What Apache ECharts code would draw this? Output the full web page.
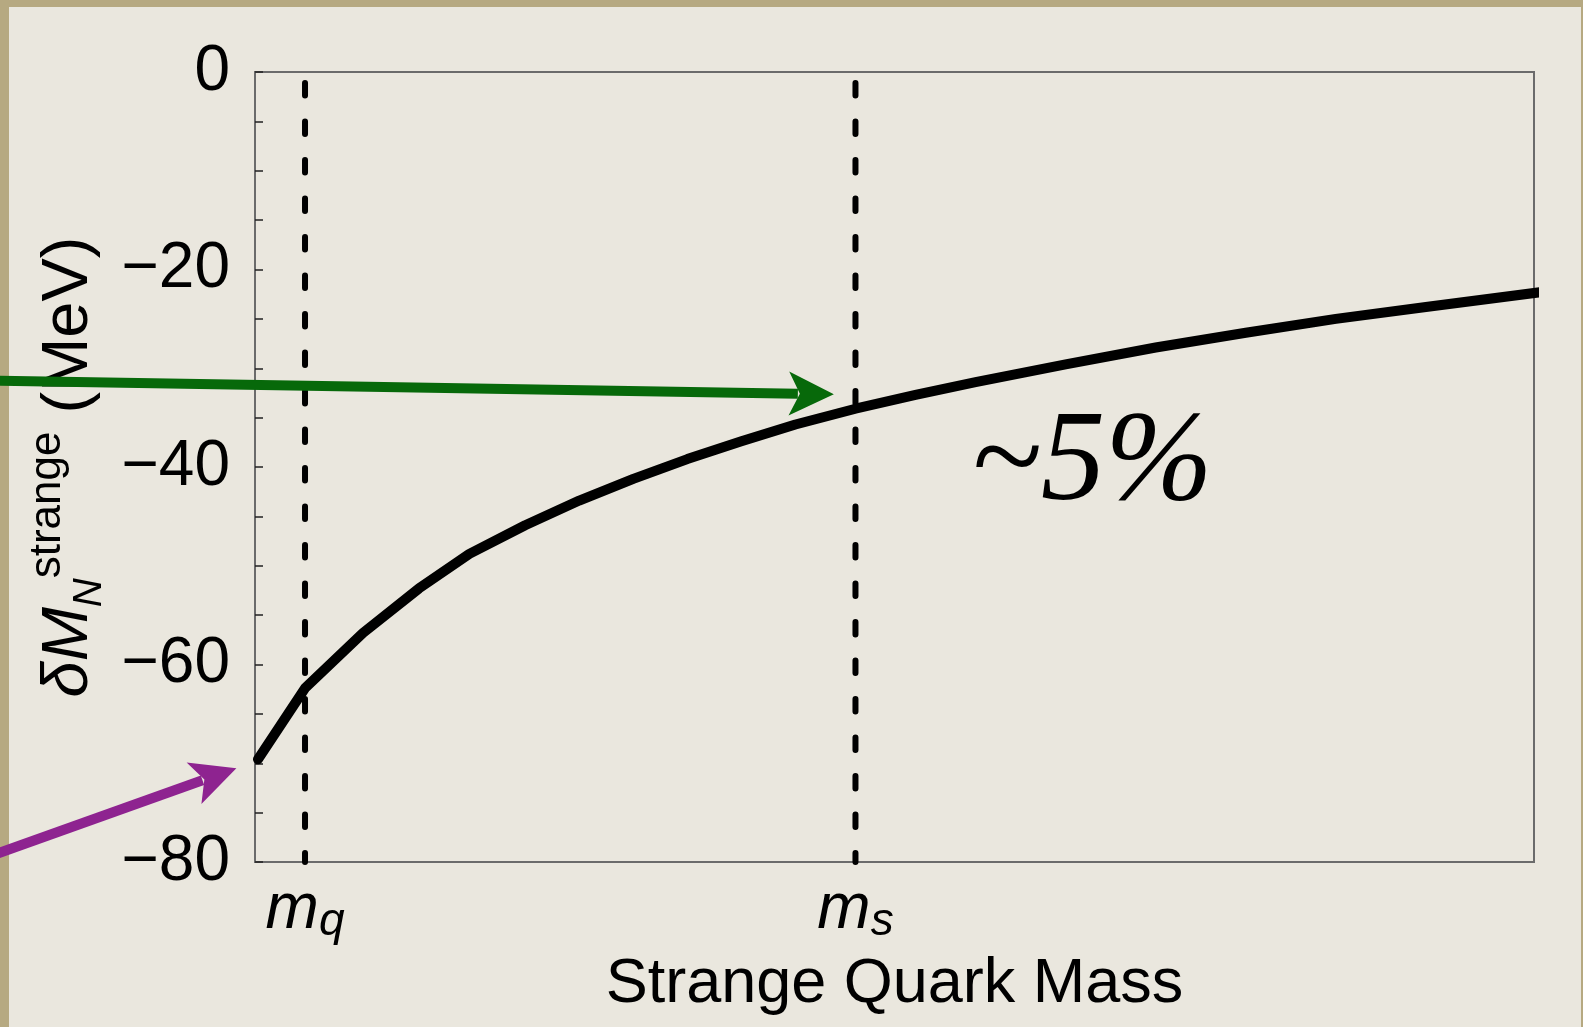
<!DOCTYPE html>
<html><head><meta charset="utf-8">
<script src="https://cdn.jsdelivr.net/npm/echarts@6/dist/echarts.min.js"></script>
<style>html,body{margin:0;padding:0;background:#b6a981;overflow:hidden}#c{width:1583px;height:1027px}</style>
</head><body><div id="c"></div>
<script>
// ---- data (x in units of the physical strange mass m_s) ----
const xMass  = [0.005, 0.0833, 0.18, 0.273, 0.357, 0.45, 0.54, 0.63, 0.72, 0.81, 0.90, 1.00, 1.10, 1.20, 1.35, 1.50, 1.65, 1.80, 1.95, 2.14];
const deltaM = [-69.6, -62.4, -56.8, -52.3, -48.8, -45.9, -43.4, -41.2, -39.2, -37.4, -35.7, -34.1, -32.7, -31.4, -29.6, -27.9, -26.4, -25.0, -23.8, -22.3];
const mqValue = 0.0833;
const msValue = 1.0;
const xMax = 2.13;
const yTicks = [-80, -60, -40, -20, 0];
const greenArrow  = [[-0.45, -31.25], [0.964, -32.64]];
const purpleArrow = [[-0.45, -79.6], [-0.031, -70.5]];
const annotation = '~5%';

const FONT = '"Liberation Sans", Arial, Helvetica, sans-serif';
const chart = echarts.init(document.getElementById('c'), null, {renderer: 'canvas'});

const curveData = xMass.map((x, i) => [x, deltaM[i]]);
const dashStyle = {color: '#000', width: 6, type: [12.5, 26], dashOffset: 27.5, cap: 'round'};

const option = {
  animation: false,
  backgroundColor: '#b6a981',
  grid: {left: 255, right: 49, top: 72, bottom: 165, show: true, borderColor: '#6b6b6b', borderWidth: 2, backgroundColor: 'transparent'},
  xAxis: {
    type: 'value', min: 0, max: xMax,
    name: 'Strange Quark Mass', nameLocation: 'middle', nameGap: 91,
    nameTextStyle: {fontSize: 63, color: '#000', fontFamily: FONT},
    axisLine: {show: true, lineStyle: {color: '#6b6b6b', width: 2}},
    axisTick: {show: false},
    splitLine: {show: false},
    axisLabel: {
      customValues: [mqValue, msValue],
      margin: 16,
      formatter: v => Math.abs(v - mqValue) < 1e-6 ? '{m|m}{s|q}' : '{m|m}{s|s}',
      rich: {
        m: {fontSize: 64, fontStyle: 'italic', fontFamily: FONT, color: '#000', height: 64, verticalAlign: 'top'},
        s: {fontSize: 46, fontStyle: 'italic', fontFamily: FONT, color: '#000', height: 88, verticalAlign: 'top'}
      }
    }
  },
  yAxis: {
    type: 'value', min: yTicks[0], max: yTicks[yTicks.length - 1], interval: 20,
    name: '{d|\u03b4M}{sub|N}{sup|strange}{n| (MeV)}',
    nameLocation: 'middle', nameRotate: 90, nameGap: 105,
    nameTextStyle: {
      rich: {
        d:   {fontSize: 65, fontStyle: 'italic', fontFamily: FONT, color: '#000', height: 80, verticalAlign: 'top'},
        sub: {fontSize: 40, fontStyle: 'italic', fontFamily: FONT, color: '#000', height: 121, verticalAlign: 'top'},
        sup: {fontSize: 44, fontFamily: FONT, color: '#000', height: 38, verticalAlign: 'top'},
        n:   {fontSize: 65, fontFamily: FONT, color: '#000', height: 80, verticalAlign: 'top'}
      }
    },
    axisLine: {show: true, lineStyle: {color: '#6b6b6b', width: 2}},
    axisTick: {show: true, inside: true, length: 8, lineStyle: {color: '#222', width: 1.5}},
    minorTick: {show: true, splitNumber: 4, length: 8, lineStyle: {color: '#222', width: 1.5}},
    splitLine: {show: false},
    minorSplitLine: {show: false},
    axisLabel: {
      fontSize: 64, color: '#000', fontFamily: FONT, margin: 25,
      formatter: v => v === 0 ? '0' : (v < 0 ? '\u2212' + Math.abs(v) : String(v))
    }
  },
  series: [
    {type: 'line', data: [[mqValue, yTicks[yTicks.length - 1]], [mqValue, yTicks[0]]], showSymbol: false, lineStyle: dashStyle, z: 3},
    {type: 'line', data: [[msValue, yTicks[yTicks.length - 1]], [msValue, yTicks[0]]], showSymbol: false, lineStyle: dashStyle, z: 3},
    {type: 'line', data: curveData, showSymbol: false, clip: true,
     lineStyle: {color: '#000', width: 10, cap: 'round', join: 'round'}, z: 4}
  ]
};
chart.setOption(option);

function arrow(pts, color) {
  const a = chart.convertToPixel({gridIndex: 0}, pts[0]);
  const b = chart.convertToPixel({gridIndex: 0}, pts[1]);
  const dx = b[0] - a[0], dy = b[1] - a[1], L = Math.hypot(dx, dy);
  const ux = dx / L, uy = dy / L, px = -uy, py = ux;
  const HL = 45, HW = 22, N = 11;
  const base = [b[0] - ux * HL, b[1] - uy * HL];
  const notch = [b[0] - ux * (HL - N), b[1] - uy * (HL - N)];
  return [
    {type: 'polyline', silent: true, z: 100, shape: {points: [a, [notch[0] - ux * 2, notch[1] - uy * 2]]},
     style: {stroke: color, lineWidth: 10, fill: null}},
    {type: 'polygon', silent: true, z: 100,
     shape: {points: [b, [base[0] + px * HW, base[1] + py * HW], notch, [base[0] - px * HW, base[1] - py * HW]]},
     style: {fill: color}}
  ];
}

chart.setOption({
  graphic: [
    {type: 'rect', silent: true, z: -100, shape: {x: 9, y: 7, width: 1583 - 9 - 2, height: 1027 - 7},
     style: {fill: '#eae7de'}},
    {type: 'text', silent: true, z: 100, x: 971, y: 465,
     style: {text: annotation, font: 'italic 129px "Liberation Serif", "Times New Roman", serif', fill: '#000', align: 'left', verticalAlign: 'middle'}},
    ...arrow(greenArrow, '#07690a'),
    ...arrow(purpleArrow, '#8e2390')
  ]
});
</script></body></html>
